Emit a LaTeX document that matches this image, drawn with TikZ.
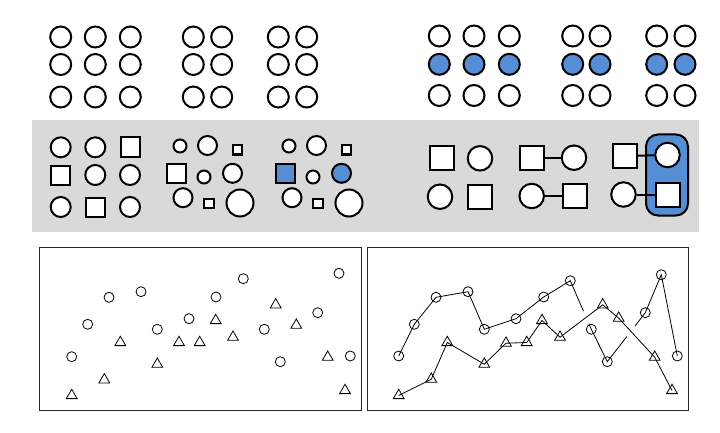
\documentclass[tikz,border=0pt]{standalone}
\usepackage{xcolor}
\usepackage{tikz}
\usetikzlibrary{shapes.geometric}
\definecolor{selblue}{HTML}{558ED5}
\definecolor{bandgray}{HTML}{D9D9D9}

\begin{document}
\begin{tikzpicture}
	[x=1pt, y=-1pt,
	ring/.style={circle, draw, line width=2pt, inner sep=0pt, minimum size=#1},
	ring/.default=21pt,
	sq/.style={rectangle, draw, line width=2pt, inner sep=0pt, minimum size=#1},
	sq/.default=19pt,
	pc/.style={circle, draw, line width=0.8pt, inner sep=0pt, minimum size=10pt},
	ptri/.style={regular polygon, regular polygon sides=3, draw, line width=0.8pt,
		inner sep=0pt, minimum size=12.5pt, yshift=-1.5pt},
	panel/.style={draw=black!85, line width=0.8pt},
	link/.style={line width=0.8pt}]
	\useasboundingbox (0,0) rectangle (720,433);

	% top left: plain grid
	\foreach \x [count=\i] in {60.7,95.3,130.3,193.3,221.7,278.3,306.7}
		\foreach \y [count=\j] in {37,64.5,97}
			\node[ring] (tl-\i-\j) at (\x,\y) {};

	% top right: middle row selected
	\foreach \x [count=\i] in {439.3,474,509.3,572.7,600,656.7,685} {
		\node[ring] (tr-\i-1) at (\x,36) {};
		\node[ring, fill=selblue] (tr-\i-2) at (\x,64.3) {};
		\node[ring] (tr-\i-3) at (\x,95.5) {};
	}

	% middle band
	\fill[bandgray] (32,120) rectangle (699,232);

	\node[ring=20pt, fill=white] (ga1) at (60.7,147.3) {};
	\node[ring=20pt, fill=white] (ga2) at (95.3,147.3) {};
	\node[sq, fill=white] (ga3) at (130,147) {};
	\node[sq, fill=white] (ga4) at (60,175) {};
	\node[ring=20pt, fill=white] (ga5) at (95.3,175) {};
	\node[ring=20pt, fill=white] (ga6) at (130,175) {};
	\node[ring=20pt, fill=white] (ga7) at (60.7,207) {};
	\node[sq, fill=white] (ga8) at (95.5,207) {};
	\node[ring=20pt, fill=white] (ga9) at (130,207) {};

	\foreach \dx/\g/\hl in {0/gb/white, 109/gc/selblue} {
		\node[ring=13pt, fill=white] (\g1) at (180+\dx,146) {};
		\node[ring=19pt, fill=white] (\g2) at (207.5+\dx,145.5) {};
		\node[sq=9pt, fill=white] (\g3) at (237.5+\dx,150) {};
		\node[sq, fill=\hl] (\g4) at (176+\dx,173.3) {};
		\node[ring=13pt, fill=white] (\g5) at (204+\dx,177) {};
		\node[ring=19pt, fill=\hl] (\g6) at (232.5+\dx,173.3) {};
		\node[ring=19pt, fill=white] (\g7) at (183+\dx,197.7) {};
		\node[sq=9.5pt, fill=white] (\g8) at (209+\dx,203.3) {};
		\node[ring=27pt, fill=white] (\g9) at (240+\dx,203) {};
	}

	% pairs
	\node[sq=24pt, fill=white] (pa1) at (441.7,158.3) {};
	\node[ring=24.5pt, fill=white] (pa2) at (480,158.3) {};
	\node[ring=24.5pt, fill=white] (pa3) at (440,196.7) {};
	\node[sq=24pt, fill=white] (pa4) at (480,196.7) {};

	\node[sq=24pt, fill=white] (pb1) at (531.7,157.7) {};
	\node[ring=24.5pt, fill=white] (pb2) at (574,157.7) {};
	\node[ring=24.5pt, fill=white] (pb3) at (531.7,196) {};
	\node[sq=24pt, fill=white] (pb4) at (574.5,196) {};
	\draw[line width=2pt] (pb1) -- (pb2);
	\draw[line width=2pt] (pb3) -- (pb4);

	\draw[fill=selblue, line width=2pt, rounded corners=12pt] (646,134.5) rectangle (688,215.5);
	\node[sq=24pt, fill=white] (pc1) at (625,156) {};
	\node[ring=24.5pt, fill=white] (pc2) at (667.5,155) {};
	\node[ring=24.5pt, fill=white] (pc3) at (623.5,194.5) {};
	\node[sq=24pt, fill=white] (pc4) at (667.5,194.5) {};
	\draw[line width=2pt] (pc1) -- (pc2);
	\draw[line width=2pt] (pc3) -- (pc4);

	% bottom panels
	\draw[panel] (39.3,247.3) rectangle (361,410);
	\draw[panel] (367.7,247.3) rectangle (688,410);

	\foreach \p [count=\i] in {(71.7,356.7),(87.7,324.3),(109,297.3),(141,291.7),
		(157.3,329.3),(189,318.7),(216,297),(243.3,278.7),(264.3,329.3),
		(280.3,361.7),(317.7,312.7),(339,273.3),(350.3,356)}
		\node[pc] (lc\i) at \p {};
	\foreach \p [count=\i] in {(71.7,394),(104.3,378.3),(120.3,341),(157.3,362.7),
		(179,341),(199.7,341),(215.7,319),(233,335.7),(275.7,303.3),
		(296.3,323.7),(327.7,355.7),(345,389)}
		\node[ptri] (lt\i) at \p {};

	\foreach \p [count=\i] in {(398.7,356),(414.3,324.3),(436,297.3),(468,291.7),
		(484.3,329.3),(516,318.7),(543.7,297),(570.3,280.7),(591.3,329.3),
		(607.3,361.7),(645.3,312.7),(661.3,274.7),(677.3,356)}
		\node[pc] (rc\i) at \p {};
	\foreach \p [count=\i] in {(398.7,394),(431.3,377.7),(447.3,341),(484.3,362.7),
		(506,341.7),(526.7,341),(542,319),(560,335.7),(602.7,303.3),
		(618.7,316.7),(654.7,355.7),(672,389)}
		\node[ptri] (rt\i) at \p {};

	% connected series, with hops where they cross
	\draw[link] (rc1.center) \foreach \i in {2,...,13} { -- (rc\i.center) };
	\draw[white, line width=13pt, shorten <=27pt, shorten >=16pt] (rt8.center) -- (rt9.center);
	\draw[white, line width=13pt, shorten <=15pt, shorten >=28pt] (rt10.center) -- (rt11.center);
	\draw[link] (rt1.center) \foreach \i in {2,...,12} { -- (rt\i.center) };
\end{tikzpicture}
\end{document}
